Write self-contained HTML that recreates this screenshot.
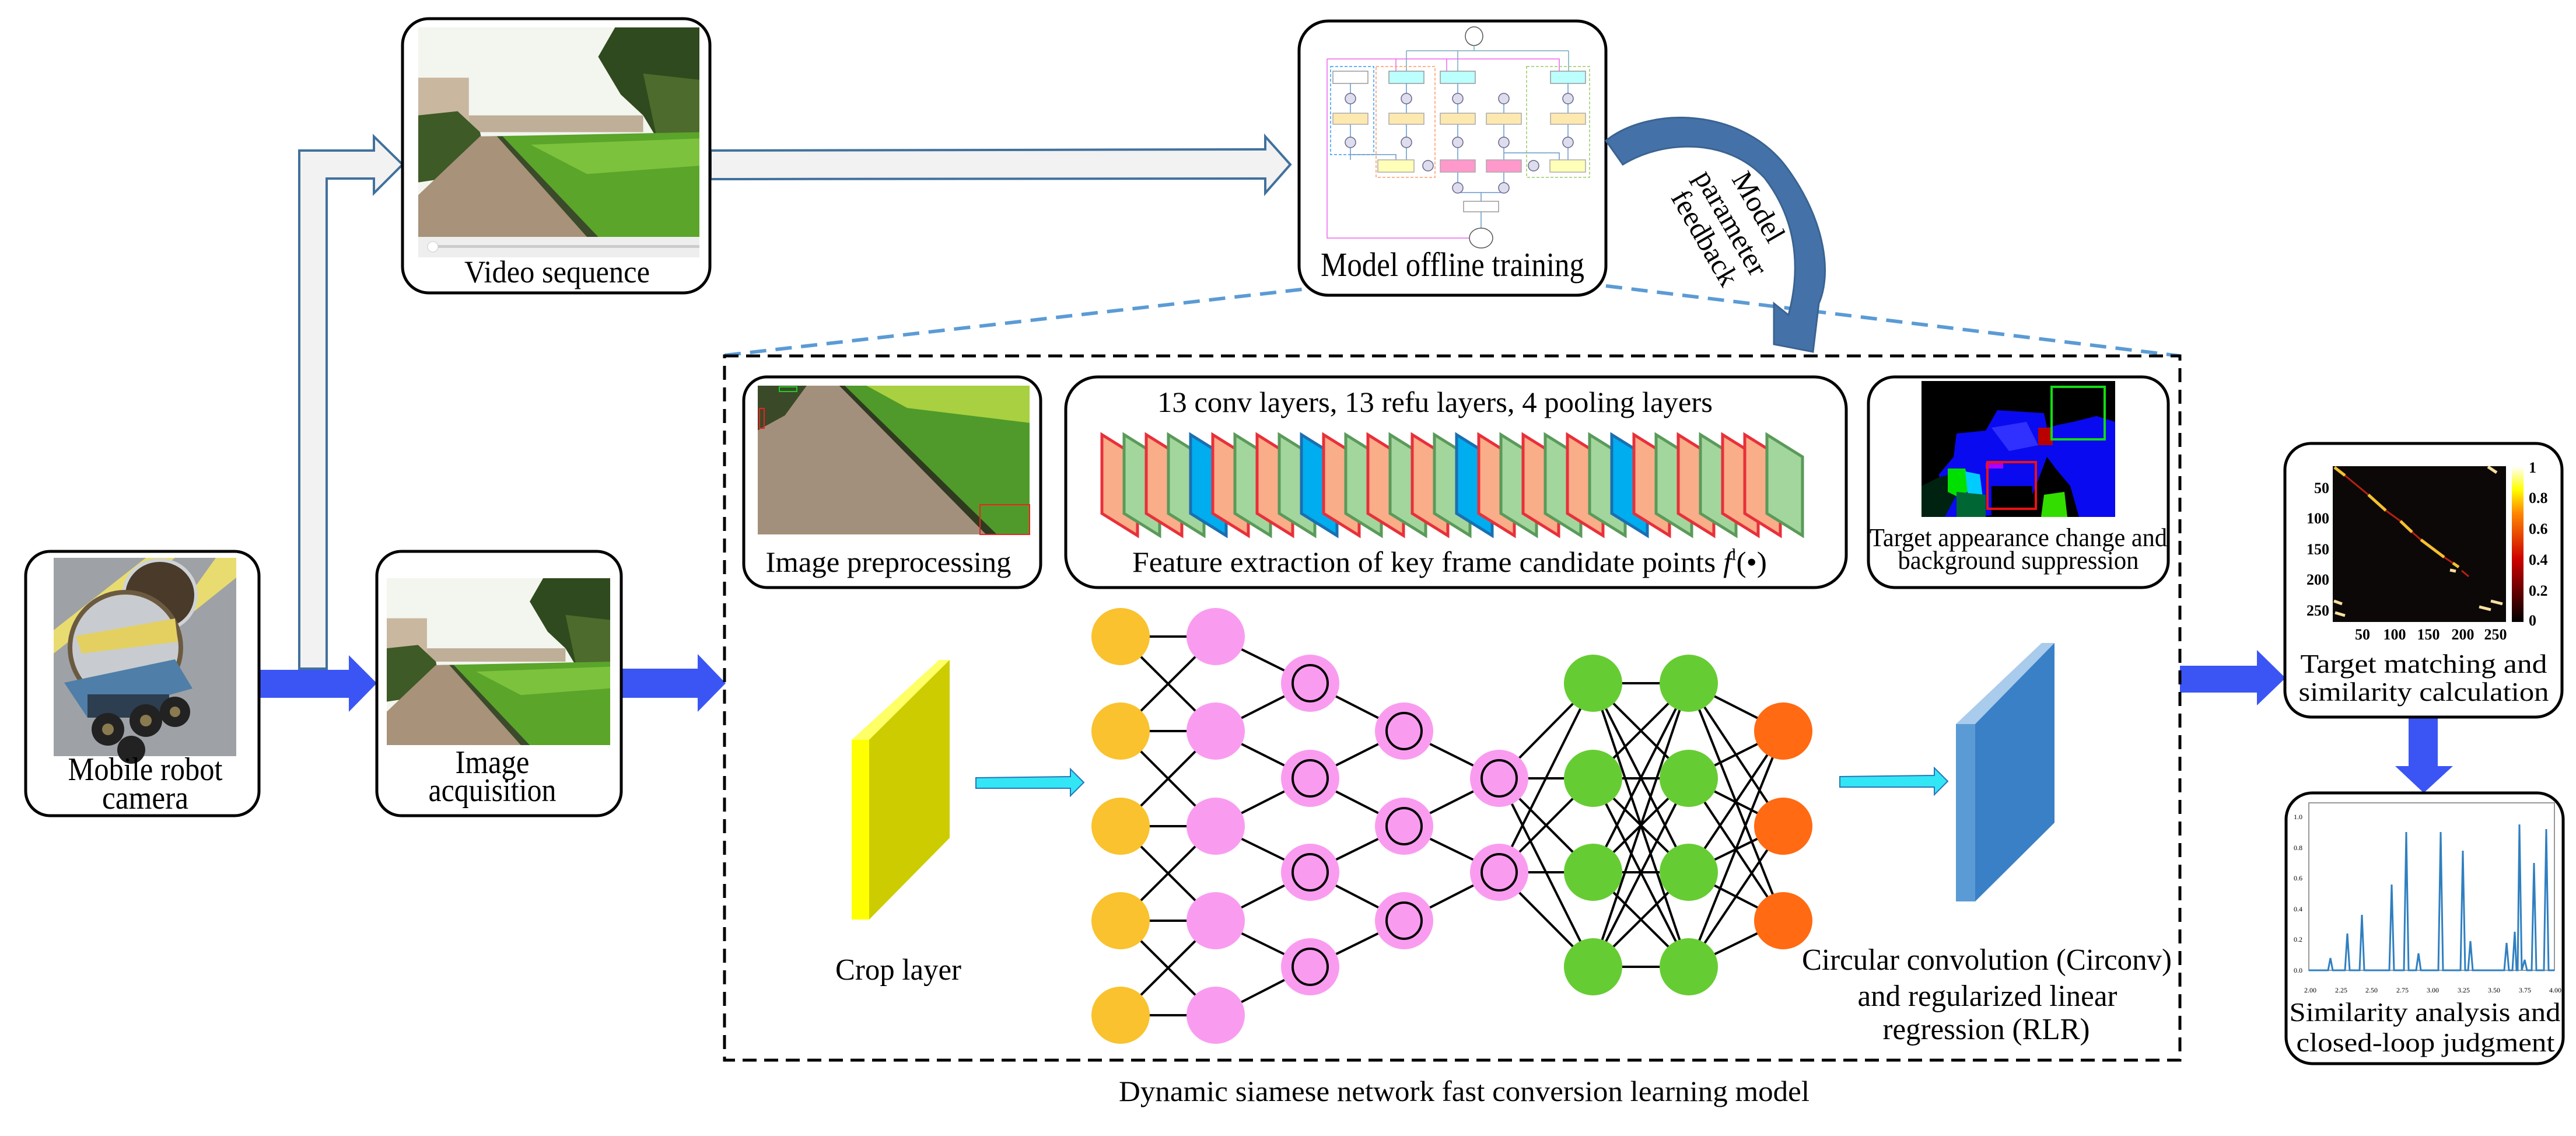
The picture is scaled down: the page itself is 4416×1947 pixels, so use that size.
<!DOCTYPE html>
<html><head><meta charset="utf-8"><style>
html,body{margin:0;padding:0;background:#fff}
svg{display:block}
.t{font-family:"Liberation Serif",serif;fill:#000}
.box{fill:#fff;stroke:#000;stroke-width:5}
.o{fill:#f9ad88;stroke:#e8303a;stroke-width:5}
.g{fill:#a3d69c;stroke:#5a9a5a;stroke-width:5}
.b{fill:#00adef;stroke:#1b6fb0;stroke-width:5}
</style></head><body>
<svg width="4416" height="1947" viewBox="0 0 4416 1947" xmlns="http://www.w3.org/2000/svg">
<defs>
<symbol id="garden" viewBox="0 0 100 100" preserveAspectRatio="none">
<rect width="100" height="100" fill="#f3f5ef"/>
<path d="M70 0 L100 0 L100 62 L88 60 L80 42 L72 32 L64 14Z" fill="#2f4a1e"/>
<path d="M80 22 L100 25 L100 64 L86 60Z" fill="#4d6b2c"/>
<rect x="0" y="24" width="18" height="26" fill="#c9b7a0"/>
<rect x="18" y="42" width="62" height="8" fill="#bfae98"/>
<path d="M0 42 L14 40 L22 50 L24 64 L10 72 L0 74Z" fill="#3e5a26"/>
<path d="M24 52 L100 50 L100 100 L58 100 Z" fill="#5aa52a"/>
<path d="M40 56 L100 53 L100 66 L60 70Z" fill="#7cc23c"/>
<path d="M22 52 L28 52 L60 100 L0 100 L0 80Z" fill="#a8927a"/>
<path d="M60 100 L28 52 L30 52 L64 100Z" fill="#3b4a2a"/>
</symbol>
<symbol id="path2" viewBox="0 0 100 100" preserveAspectRatio="none">
<rect width="100" height="100" fill="#a3907c"/>
<path d="M30 0 L100 0 L100 100 L85 100 Z" fill="#4f9a2a"/>
<path d="M40 0 L100 0 L100 25 L55 15Z" fill="#a8d040"/>
<path d="M30 0 L32 0 L88 100 L84 100Z" fill="#2f3a20"/>
<path d="M0 0 L18 0 L10 20 L0 30Z" fill="#3a4a28"/>
</symbol>
</defs>

<path d="M513 1146 L513 258 L641 258 L641 234 L690 282 L641 331 L641 306 L560 306 L560 1146Z" fill="#f2f2f2" stroke="#41719c" stroke-width="4"/>
<path d="M1218 258 L2169 256 L2169 234 L2212 282 L2169 331 L2169 306 L1218 307Z" fill="#f2f2f2" stroke="#41719c" stroke-width="4"/>

<path d="M444 1148 L598 1148 L598 1123 L646 1171 L598 1220 L598 1196 L444 1196Z" fill="#3b55f5"/>
<path d="M1063 1146 L1196 1146 L1196 1121 L1244 1171 L1196 1220 L1196 1196 L1063 1196Z" fill="#3b55f5"/>
<path d="M3737 1141 L3869 1141 L3869 1114 L3918 1162 L3869 1209 L3869 1187 L3737 1187Z" fill="#3b55f5"/>
<path d="M4129 1229 L4179 1229 L4179 1313 L4205 1313 L4155 1359 L4106 1313 L4129 1313Z" fill="#3b55f5"/>

<rect x="690" y="32" width="527" height="470" rx="45" class="box"/>
<use href="#garden" x="717" y="47" width="482" height="359"/>
<rect x="717" y="406" width="482" height="35" fill="#eee"/>
<rect x="740" y="420" width="459" height="5" fill="#ccc"/>
<circle cx="742" cy="423" r="9" fill="#fff" stroke="#ccc"/>
<text class="t" x="955" y="484" font-size="54" text-anchor="middle" textLength="318" lengthAdjust="spacingAndGlyphs">Video sequence</text>

<rect x="2227" y="36" width="526" height="470" rx="50" class="box"/>
<g fill="none" stroke-width="1.5">
<ellipse cx="2527" cy="62" rx="15" ry="16" fill="#fff" stroke="#555"/>
<path d="M2411 87 L2689 87 M2527 78 L2527 87 M2411 87 L2411 122 M2499 87 L2499 122 M2689 87 L2689 122" stroke="#7ab"/>
<path d="M2275 101 L2673 101 L2673 122 M2393 101 L2393 122 M2480 101 L2480 122 M2275 101 L2275 408 L2524 408" stroke="#e6e"/>
<rect x="2281" y="114" width="74" height="151" stroke="#39f" stroke-dasharray="5 3"/>
<rect x="2359" y="114" width="101" height="190" stroke="#f96" stroke-dasharray="5 3"/>
<rect x="2617" y="114" width="108" height="190" stroke="#9c6" stroke-dasharray="5 3"/>
<rect x="2285" y="122" width="60" height="21" fill="#fff" stroke="#999"/>
<rect x="2381" y="122" width="60" height="21" fill="#bff" stroke="#999"/>
<rect x="2469" y="122" width="60" height="21" fill="#bff" stroke="#999"/>
<rect x="2658" y="122" width="60" height="21" fill="#bff" stroke="#999"/>
<path d="M2315 143 L2315 274 M2411 143 L2411 274 M2499 143 L2499 322 M2578 160 L2578 322 M2688 143 L2688 274 M2315 265 L2393 265 L2393 274 M2578 262 L2673 262 L2673 274 M2499 330 L2578 330 M2539 330 L2539 345 M2539 363 L2539 392" stroke="#69c"/>
<g fill="#dde" stroke="#668">
<circle cx="2315" cy="169" r="9"/><circle cx="2411" cy="169" r="9"/><circle cx="2499" cy="169" r="9"/><circle cx="2578" cy="169" r="9"/><circle cx="2688" cy="169" r="9"/>
<circle cx="2315" cy="244" r="9"/><circle cx="2411" cy="244" r="9"/><circle cx="2499" cy="244" r="9"/><circle cx="2578" cy="244" r="9"/><circle cx="2688" cy="244" r="9"/>
<circle cx="2448" cy="284" r="9"/><circle cx="2629" cy="284" r="9"/><circle cx="2499" cy="322" r="9"/><circle cx="2578" cy="322" r="9"/>
</g>
<g fill="#fde9b0" stroke="#aaa">
<rect x="2285" y="194" width="60" height="19"/><rect x="2381" y="194" width="60" height="19"/><rect x="2469" y="194" width="60" height="19"/><rect x="2548" y="194" width="60" height="19"/><rect x="2658" y="194" width="60" height="19"/>
</g>
<rect x="2362" y="274" width="62" height="21" fill="#ffffb8" stroke="#aaa"/>
<rect x="2469" y="274" width="60" height="21" fill="#f9c" stroke="#aaa"/>
<rect x="2548" y="274" width="60" height="21" fill="#f9c" stroke="#aaa"/>
<rect x="2657" y="274" width="61" height="21" fill="#ffffb8" stroke="#aaa"/>
<rect x="2509" y="345" width="60" height="18" fill="#fff" stroke="#999"/>
<ellipse cx="2539" cy="408" rx="20" ry="17" fill="#fff" stroke="#555"/>
</g>
<text class="t" x="2490" y="473" font-size="58" text-anchor="middle" textLength="452" lengthAdjust="spacingAndGlyphs">Model offline training</text>

<path d="M1242 609 L2240 495 M2753 490 L3737 610" stroke="#5b9bd5" stroke-width="6" stroke-dasharray="28 16" fill="none"/>

<path d="M2753 241 C2830 180 2990 185 3065 290 C3130 380 3140 470 3118 520 L3108 603 L3041 590 L3041 520 L3066 540 C3090 450 3075 370 3025 305 C2960 235 2850 240 2782 282Z" fill="#4472a8" stroke="#3a6391" stroke-width="3"/>
<g transform="translate(2957 388) rotate(60)" class="t" font-size="50" text-anchor="middle">
<text x="0" y="-50">Model</text>
<text x="0" y="4">parameter</text>
<text x="0" y="56">feedback</text>
</g>

<rect x="1242" y="610" width="2495" height="1207" fill="none" stroke="#000" stroke-width="5" stroke-dasharray="24 13"/>

<rect x="1275" y="646" width="509" height="361" rx="40" class="box"/>
<use href="#path2" x="1299" y="661" width="466" height="255"/>
<rect x="1336" y="663" width="30" height="8" fill="none" stroke="#2c2" stroke-width="2"/>
<rect x="1302" y="700" width="8" height="34" fill="none" stroke="#e22" stroke-width="2"/>
<rect x="1680" y="865" width="85" height="51" fill="none" stroke="#e22" stroke-width="2"/>
<text class="t" x="1523" y="980" font-size="50" text-anchor="middle" textLength="421" lengthAdjust="spacingAndGlyphs">Image preprocessing</text>

<rect x="1827" y="646" width="1338" height="361" rx="55" class="box"/>
<text class="t" x="2460" y="706" font-size="50" text-anchor="middle" textLength="952" lengthAdjust="spacingAndGlyphs">13 conv layers, 13 refu layers, 4 pooling layers</text>
<g>
<polygon class="o" points="1889,745 1950,783 1950,918 1889,880"/>
<polygon class="g" points="1927,745 1988,783 1988,918 1927,880"/>
<polygon class="o" points="1965,745 2026,783 2026,918 1965,880"/>
<polygon class="g" points="2003,745 2064,783 2064,918 2003,880"/>
<polygon class="b" points="2041,745 2102,783 2102,918 2041,880"/>
<polygon class="o" points="2079,745 2140,783 2140,918 2079,880"/>
<polygon class="g" points="2117,745 2178,783 2178,918 2117,880"/>
<polygon class="o" points="2155,745 2216,783 2216,918 2155,880"/>
<polygon class="g" points="2193,745 2254,783 2254,918 2193,880"/>
<polygon class="b" points="2231,745 2292,783 2292,918 2231,880"/>
<polygon class="o" points="2269,745 2330,783 2330,918 2269,880"/>
<polygon class="g" points="2307,745 2368,783 2368,918 2307,880"/>
<polygon class="o" points="2345,745 2406,783 2406,918 2345,880"/>
<polygon class="g" points="2383,745 2444,783 2444,918 2383,880"/>
<polygon class="o" points="2421,745 2482,783 2482,918 2421,880"/>
<polygon class="g" points="2459,745 2520,783 2520,918 2459,880"/>
<polygon class="b" points="2497,745 2558,783 2558,918 2497,880"/>
<polygon class="o" points="2535,745 2596,783 2596,918 2535,880"/>
<polygon class="g" points="2573,745 2634,783 2634,918 2573,880"/>
<polygon class="o" points="2611,745 2672,783 2672,918 2611,880"/>
<polygon class="g" points="2649,745 2710,783 2710,918 2649,880"/>
<polygon class="o" points="2687,745 2748,783 2748,918 2687,880"/>
<polygon class="g" points="2725,745 2786,783 2786,918 2725,880"/>
<polygon class="b" points="2763,745 2824,783 2824,918 2763,880"/>
<polygon class="o" points="2801,745 2862,783 2862,918 2801,880"/>
<polygon class="g" points="2839,745 2900,783 2900,918 2839,880"/>
<polygon class="o" points="2877,745 2938,783 2938,918 2877,880"/>
<polygon class="g" points="2915,745 2976,783 2976,918 2915,880"/>
<polygon class="o" points="2953,745 3014,783 3014,918 2953,880"/>
<polygon class="o" points="2991,745 3052,783 3052,918 2991,880"/>
<polygon class="g" points="3029,745 3090,783 3090,918 3029,880"/>
</g>
<text class="t" x="2485" y="980" font-size="50" text-anchor="middle" textLength="1088" lengthAdjust="spacingAndGlyphs">Feature extraction of key frame candidate points <tspan font-style="italic">f</tspan><tspan font-size="28" dy="-20">l</tspan><tspan dy="20">(•)</tspan></text>

<rect x="3203" y="646" width="514" height="361" rx="45" class="box"/>
<rect x="3294" y="653" width="332" height="233" fill="#000"/>
<g transform="translate(3294 653)">
<path d="M60 90 L110 85 L130 50 L210 55 L215 80 L235 75 L260 70 L300 60 L332 70 L332 233 L270 233 L255 180 L230 150 L215 130 L200 170 L180 220 L100 233 L40 233 L30 160 L55 130Z" fill="#0a0af0"/>
<path d="M120 80 L180 70 L200 110 L150 120Z" fill="#3030ff"/>
<path d="M0 180 L30 165 L50 160 L60 195 L40 233 L0 233Z" fill="#021"/>
<path d="M45 150 L75 150 L85 185 L65 200 L45 190Z" fill="#00e000"/>
<path d="M75 155 L100 160 L105 200 L80 200Z" fill="#00ccff"/>
<path d="M60 190 L110 195 L110 233 L60 233Z" fill="#063"/>
<path d="M210 195 L245 190 L250 233 L205 233Z" fill="#3d0"/>
<path d="M200 80 L225 80 L225 110 L200 110Z" fill="#b00"/>
<path d="M110 140 L140 140 L140 150 L110 150Z" fill="#a0f"/>
<path d="M120 180 L190 180 L190 230 L120 230Z" fill="#000"/>
</g>
<rect x="3517" y="663" width="91" height="90" fill="none" stroke="#1d1" stroke-width="4"/>
<rect x="3407" y="792" width="83" height="80" fill="none" stroke="#e11" stroke-width="4"/>
<text class="t" x="3460" y="936" font-size="44" text-anchor="middle" textLength="510" lengthAdjust="spacingAndGlyphs">Target appearance change and</text>
<text class="t" x="3460" y="975" font-size="44" text-anchor="middle" textLength="413" lengthAdjust="spacingAndGlyphs">background suppression</text>

<polygon points="1460,1268 1628,1131 1628,1436 1490,1576 1460,1576" fill="#cccc00"/>
<polygon points="1460,1268 1490,1268 1628,1131 1610,1131" fill="#ffff66"/>
<rect x="1460" y="1268" width="30" height="308" fill="#ffff00"/>
<text class="t" x="1540" y="1679" font-size="52" text-anchor="middle" textLength="216" lengthAdjust="spacingAndGlyphs">Crop layer</text>

<path d="M1673 1333 L1835 1331 L1835 1318 L1858 1341 L1835 1364 L1835 1351 L1673 1351Z" fill="#33e6f5" stroke="#2a74b8" stroke-width="2"/>
<path d="M3154 1331 L3316 1329 L3316 1316 L3339 1339 L3316 1362 L3316 1349 L3154 1349Z" fill="#33e6f5" stroke="#2a74b8" stroke-width="2"/>

<path fill="none" stroke="#000" stroke-width="4" d="
M1921 1091L2084 1091M1921 1253L2084 1253M1921 1416L2084 1416M1921 1578L2084 1578M1921 1740L2084 1740
M1921 1091L2084 1253M1921 1253L2084 1091M1921 1253L2084 1416M1921 1416L2084 1253M1921 1416L2084 1578M1921 1578L2084 1416M1921 1578L2084 1740M1921 1740L2084 1578
M2084 1091L2246 1171M2084 1253L2246 1171M2084 1253L2246 1334M2084 1416L2246 1334M2084 1416L2246 1495M2084 1578L2246 1495M2084 1578L2246 1657M2084 1740L2246 1657
M2246 1171L2407 1253M2246 1334L2407 1253M2246 1334L2407 1416M2246 1495L2407 1416M2246 1495L2407 1578M2246 1657L2407 1578
M2407 1253L2570 1334M2407 1416L2570 1334M2407 1416L2570 1495M2407 1578L2570 1495
M2570 1334L2731 1171M2570 1334L2731 1334M2570 1334L2731 1495M2570 1334L2731 1657M2570 1495L2731 1171M2570 1495L2731 1334M2570 1495L2731 1495M2570 1495L2731 1657
M2731 1171L2895 1171M2731 1171L2895 1334M2731 1171L2895 1495M2731 1171L2895 1657
M2731 1334L2895 1171M2731 1334L2895 1334M2731 1334L2895 1495M2731 1334L2895 1657
M2731 1495L2895 1171M2731 1495L2895 1334M2731 1495L2895 1495M2731 1495L2895 1657
M2731 1657L2895 1171M2731 1657L2895 1334M2731 1657L2895 1495M2731 1657L2895 1657
M2895 1171L3057 1253M2895 1171L3057 1416M2895 1171L3057 1578
M2895 1334L3057 1253M2895 1334L3057 1416M2895 1334L3057 1578
M2895 1495L3057 1253M2895 1495L3057 1416M2895 1495L3057 1578
M2895 1657L3057 1253M2895 1657L3057 1416M2895 1657L3057 1578"/>
<g fill="#f9c22e">
<ellipse cx="1921" cy="1091" rx="50" ry="49"/><ellipse cx="1921" cy="1253" rx="50" ry="49"/><ellipse cx="1921" cy="1416" rx="50" ry="49"/><ellipse cx="1921" cy="1578" rx="50" ry="49"/><ellipse cx="1921" cy="1740" rx="50" ry="49"/>
</g>
<g fill="#f99cf0">
<ellipse cx="2084" cy="1091" rx="50" ry="49"/><ellipse cx="2084" cy="1253" rx="50" ry="49"/><ellipse cx="2084" cy="1416" rx="50" ry="49"/><ellipse cx="2084" cy="1578" rx="50" ry="49"/><ellipse cx="2084" cy="1740" rx="50" ry="49"/>
<ellipse cx="2246" cy="1171" rx="50" ry="49"/><ellipse cx="2246" cy="1334" rx="50" ry="49"/><ellipse cx="2246" cy="1495" rx="50" ry="49"/><ellipse cx="2246" cy="1657" rx="50" ry="49"/>
<ellipse cx="2407" cy="1253" rx="50" ry="49"/><ellipse cx="2407" cy="1416" rx="50" ry="49"/><ellipse cx="2407" cy="1578" rx="50" ry="49"/>
<ellipse cx="2570" cy="1334" rx="50" ry="49"/><ellipse cx="2570" cy="1495" rx="50" ry="49"/>
</g>
<g fill="none" stroke="#000" stroke-width="4">
<ellipse cx="2246" cy="1171" rx="30" ry="31"/><ellipse cx="2246" cy="1334" rx="30" ry="31"/><ellipse cx="2246" cy="1495" rx="30" ry="31"/><ellipse cx="2246" cy="1657" rx="30" ry="31"/>
<ellipse cx="2407" cy="1253" rx="30" ry="31"/><ellipse cx="2407" cy="1416" rx="30" ry="31"/><ellipse cx="2407" cy="1578" rx="30" ry="31"/>
<ellipse cx="2570" cy="1334" rx="30" ry="31"/><ellipse cx="2570" cy="1495" rx="30" ry="31"/>
</g>
<g fill="#66cc33">
<ellipse cx="2731" cy="1171" rx="50" ry="49"/><ellipse cx="2731" cy="1334" rx="50" ry="49"/><ellipse cx="2731" cy="1495" rx="50" ry="49"/><ellipse cx="2731" cy="1657" rx="50" ry="49"/>
<ellipse cx="2895" cy="1171" rx="50" ry="49"/><ellipse cx="2895" cy="1334" rx="50" ry="49"/><ellipse cx="2895" cy="1495" rx="50" ry="49"/><ellipse cx="2895" cy="1657" rx="50" ry="49"/>
</g>
<g fill="#ff6a13">
<ellipse cx="3057" cy="1253" rx="50" ry="49"/><ellipse cx="3057" cy="1416" rx="50" ry="49"/><ellipse cx="3057" cy="1578" rx="50" ry="49"/>
</g>

<polygon points="3353,1241 3522,1102 3522,1410 3386,1545 3353,1545" fill="#3a80c6"/>
<polygon points="3353,1241 3386,1241 3522,1102 3500,1102" fill="#a9cbec"/>
<rect x="3353" y="1241" width="33" height="304" fill="#5b9bd5"/>
<text class="t" x="3406" y="1662" font-size="52" text-anchor="middle" textLength="634" lengthAdjust="spacingAndGlyphs">Circular convolution (Circonv)</text>
<text class="t" x="3407" y="1724" font-size="52" text-anchor="middle" textLength="445" lengthAdjust="spacingAndGlyphs">and regularized linear</text>
<text class="t" x="3405" y="1781" font-size="52" text-anchor="middle" textLength="355" lengthAdjust="spacingAndGlyphs">regression (RLR)</text>

<text class="t" x="2510" y="1887" font-size="50" text-anchor="middle" textLength="1184" lengthAdjust="spacingAndGlyphs">Dynamic siamese network fast conversion learning model</text>

<rect x="44" y="945" width="400" height="453" rx="42" class="box"/>
<g>
<rect x="92" y="956" width="313" height="340" fill="#9ea2a6"/>
<polygon points="92,1080 250,956 300,956 92,1120" fill="#e8dc70"/>
<polygon points="370,956 405,956 405,990 330,1050 310,1040" fill="#e8dc70"/>
<ellipse cx="274" cy="1020" rx="62" ry="60" fill="#4a3a2a" stroke="#cfd3d6" stroke-width="6"/>
<ellipse cx="215" cy="1110" rx="95" ry="95" fill="#c8ccd0" stroke="#6b5a40" stroke-width="8"/>
<polygon points="130,1090 300,1060 305,1100 140,1120" fill="#e3d060"/>
<polygon points="110,1170 300,1130 330,1180 150,1230" fill="#4f7ea8"/>
<rect x="150" y="1190" width="140" height="40" fill="#2c3e50"/>
<circle cx="185" cy="1250" r="28" fill="#222"/><circle cx="250" cy="1235" r="28" fill="#222"/><circle cx="300" cy="1220" r="26" fill="#222"/><circle cx="225" cy="1285" r="24" fill="#222"/>
<circle cx="185" cy="1250" r="10" fill="#8a7a50"/><circle cx="250" cy="1235" r="10" fill="#8a7a50"/><circle cx="300" cy="1220" r="9" fill="#8a7a50"/>
</g>
<text class="t" x="249" y="1337" font-size="56" text-anchor="middle" textLength="265" lengthAdjust="spacingAndGlyphs">Mobile robot</text>
<text class="t" x="249" y="1386" font-size="56" text-anchor="middle" textLength="148" lengthAdjust="spacingAndGlyphs">camera</text>

<rect x="646" y="945" width="419" height="453" rx="42" class="box"/>
<use href="#garden" x="663" y="991" width="383" height="286"/>
<text class="t" x="844" y="1325" font-size="56" text-anchor="middle" textLength="127" lengthAdjust="spacingAndGlyphs">Image</text>
<text class="t" x="844" y="1373" font-size="56" text-anchor="middle" textLength="219" lengthAdjust="spacingAndGlyphs">acquisition</text>

<rect x="3917" y="760" width="475" height="469" rx="45" class="box"/>
<defs><linearGradient id="cb" x1="0" y1="1" x2="0" y2="0"><stop offset="0" stop-color="#000"/><stop offset="0.4" stop-color="#c00"/><stop offset="0.7" stop-color="#f80"/><stop offset="0.85" stop-color="#ff0"/><stop offset="1" stop-color="#fff"/></linearGradient></defs>
<rect x="3999" y="799" width="297" height="267" fill="#0c0808"/>
<path d="M4002 801 L4020 815 M4060 848 L4090 875 M4115 893 L4135 912 M4150 925 L4190 955 M4205 965 L4215 972" stroke="#f5c030" stroke-width="5"/>
<path d="M4020 815 L4060 848 M4090 875 L4115 893 M4135 912 L4150 925 M4190 955 L4205 965 M4220 978 L4232 988" stroke="#b82010" stroke-width="3"/>
<path d="M4200 977 L4210 979 M4001 1030 L4015 1035 M4270 1030 L4290 1035 M4250 1040 L4270 1045 M4003 1050 L4020 1055 M4265 800 L4280 810" stroke="#f8e0a0" stroke-width="5"/>
<rect x="4306" y="799" width="20" height="267" fill="url(#cb)"/>
<g class="t" font-size="26" font-weight="bold" fill="#222">
<text x="3993" y="845" text-anchor="end">50</text><text x="3993" y="897" text-anchor="end">100</text><text x="3993" y="950" text-anchor="end">150</text><text x="3993" y="1002" text-anchor="end">200</text><text x="3993" y="1055" text-anchor="end">250</text>
<text x="4050" y="1096" text-anchor="middle">50</text><text x="4105" y="1096" text-anchor="middle">100</text><text x="4163" y="1096" text-anchor="middle">150</text><text x="4222" y="1096" text-anchor="middle">200</text><text x="4278" y="1096" text-anchor="middle">250</text>
<text x="4335" y="810">1</text><text x="4335" y="862">0.8</text><text x="4335" y="915">0.6</text><text x="4335" y="968">0.4</text><text x="4335" y="1021">0.2</text><text x="4335" y="1072">0</text>
</g>
<text class="t" x="4155" y="1153" font-size="46" text-anchor="middle" textLength="423" lengthAdjust="spacingAndGlyphs">Target matching and</text>
<text class="t" x="4155" y="1201" font-size="46" text-anchor="middle" textLength="429" lengthAdjust="spacingAndGlyphs">similarity calculation</text>

<rect x="3919" y="1359" width="475" height="464" rx="45" class="box"/>
<rect x="3958" y="1376" width="421" height="287" fill="#fff" stroke="#999" stroke-width="2"/>
<polyline fill="none" stroke="#2f7fc0" stroke-width="3" points="3958,1663 3991,1663 3995,1642 3999,1663 4020,1663 4024,1600 4028,1663 4045,1663 4049,1568 4053,1663 4096,1663 4100,1516 4104,1663 4121,1663 4125,1426 4129,1663 4142,1663 4146,1634 4150,1663 4180,1663 4184,1426 4188,1663 4218,1663 4222,1458 4226,1663 4231,1663 4235,1613 4239,1663 4293,1663 4297,1616 4301,1663 4307,1663 4311,1597 4314,1663 4316,1663 4319,1413 4323,1663 4328,1645 4332,1663 4340,1663 4344,1479 4348,1663 4361,1663 4365,1421 4369,1663 4379,1663"/>
<g class="t" font-size="12" fill="#444">
<text x="3932" y="1404">1.0</text><text x="3932" y="1457">0.8</text><text x="3932" y="1509">0.6</text><text x="3932" y="1562">0.4</text><text x="3932" y="1614">0.2</text><text x="3932" y="1667">0.0</text>
<text x="3950" y="1701">2.00</text><text x="4003" y="1701">2.25</text><text x="4055" y="1701">2.50</text><text x="4108" y="1701">2.75</text><text x="4160" y="1701">3.00</text><text x="4213" y="1701">3.25</text><text x="4265" y="1701">3.50</text><text x="4318" y="1701">3.75</text><text x="4370" y="1701">4.00</text>
</g>
<text class="t" x="4157" y="1750" font-size="46" text-anchor="middle" textLength="465" lengthAdjust="spacingAndGlyphs">Similarity analysis and</text>
<text class="t" x="4158" y="1802" font-size="46" text-anchor="middle" textLength="443" lengthAdjust="spacingAndGlyphs">closed-loop judgment</text>
</svg>
</body></html>
